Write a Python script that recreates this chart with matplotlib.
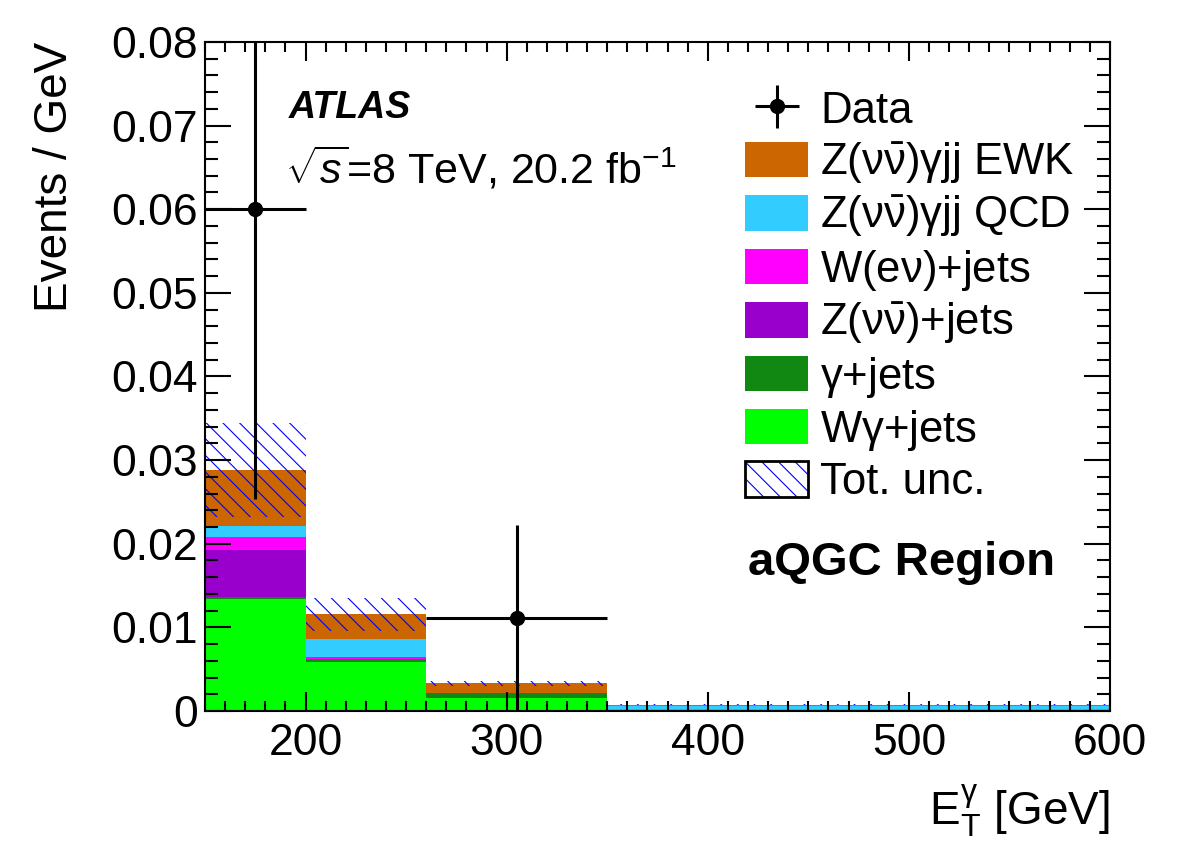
import numpy as np
import matplotlib.pyplot as plt
from matplotlib.patches import Patch
from matplotlib.legend_handler import HandlerTuple
from matplotlib.ticker import MultipleLocator

plt.rcParams['font.family'] = ['Liberation Sans', 'DejaVu Sans']
plt.rcParams['mathtext.fontset'] = 'custom'
plt.rcParams['mathtext.rm'] = 'Liberation Sans'
plt.rcParams['mathtext.it'] = 'Liberation Sans:italic'
plt.rcParams['mathtext.bf'] = 'Liberation Sans:bold'
plt.rcParams['hatch.linewidth'] = 0.8

# bin edges in photon ET (GeV)
edges = np.array([150, 200, 260, 350, 600])

# stacked backgrounds, Events / GeV (bottom to top)
wgam_jets = [0.01336, 0.00586, 0.00156, 0.00020]
gam_jets = [0.00032, 0.00032, 0.00064, 0.00002]
znn_jets = [0.00557, 0.00000, 0.00000, 0.00000]
wen_jets = [0.00152, 0.00024, 0.00000, 0.00000]
zgjj_qcd = [0.00132, 0.00224, 0.00000, 0.00040]
zgjj_ewk = [0.00673, 0.00290, 0.00111, 0.00015]
tot_unc = [0.0056, 0.0020, 0.0003, 0.0001]

# data points
data_x = [175, 305]
data_y = [0.0600, 0.0111]
data_err = [0.0346, 0.0111]
data_xerr = [25, 45]

samples = [
    (wgam_jets, '#00ff00', r'W$\mathrm{\gamma}$+jets'),
    (gam_jets, '#118811', r'$\mathrm{\gamma}$+jets'),
    (znn_jets, '#9900cc', r'Z($\mathrm{\nu\bar{\nu}}$)+jets'),
    (wen_jets, '#ff00ff', r'W(e$\mathrm{\nu}$)+jets'),
    (zgjj_qcd, '#33ccff', r'Z($\mathrm{\nu\bar{\nu}}$)$\mathrm{\gamma}$jj QCD'),
    (zgjj_ewk, '#cc6600', r'Z($\mathrm{\nu\bar{\nu}}$)$\mathrm{\gamma}$jj EWK'),
]

fig = plt.figure(figsize=(11.82, 8.48), dpi=100)
ax = fig.add_axes([0.1734, 0.1616, 0.7657, 0.789])

base = np.zeros(len(edges) - 1)
for vals, col, lab in samples:
    top = base + np.array(vals)
    ax.stairs(top, edges, baseline=base, fill=True, color=col, lw=0)
    base = top

total = base
unc = np.array(tot_unc)
ax.stairs(total + unc, edges, baseline=total - unc, fill=True,
          facecolor='none', edgecolor='blue', hatch='\\\\', lw=0)

ax.errorbar(data_x, data_y, yerr=data_err, xerr=data_xerr, fmt='o',
            color='black', ms=10, lw=2.2, capsize=0)

ax.set_xlim(150, 600)
ax.set_ylim(0, 0.08)
ax.xaxis.set_major_locator(MultipleLocator(100))
ax.xaxis.set_minor_locator(MultipleLocator(10))
ax.yaxis.set_minor_locator(MultipleLocator(0.002))
ax.set_yticks([0, 0.01, 0.02, 0.03, 0.04, 0.05, 0.06, 0.07, 0.08])
ax.set_yticklabels(['0', '0.01', '0.02', '0.03', '0.04', '0.05', '0.06', '0.07', '0.08'])
ax.tick_params(which='both', direction='in', top=True, right=True, width=1.5,
               labelsize=32)
ax.tick_params(axis='y', which='major', length=19, pad=5)
ax.tick_params(axis='y', which='minor', length=9.5)
ax.tick_params(axis='x', which='major', length=14, pad=9)
ax.tick_params(axis='x', which='minor', length=7)
for s in ax.spines.values():
    s.set_linewidth(1.5)

ax.set_ylabel('Events / GeV', fontsize=33, loc='top')
ax.yaxis.set_label_coords(-0.141, 1.0)
ax.set_xlabel(r'E$_\mathrm{T}^\mathrm{\gamma}$ [GeV]', fontsize=33, loc='right')
ax.xaxis.set_label_coords(1.0, -0.106)

ax.text(0.093, 0.886, 'ATLAS', transform=ax.transAxes, fontsize=27,
        fontweight='bold', fontstyle='italic', va='baseline')
ax.text(0.088, 0.789, r'$\sqrt{s}$=8 TeV, 20.2 fb$^{-1}$', transform=ax.transAxes,
        fontsize=31, va='baseline')
ax.text(0.600, 0.203, 'aQGC Region', transform=ax.transAxes, fontsize=34,
        fontweight='bold', va='baseline')

handles = [ax.errorbar([], [], yerr=[], xerr=[], fmt='o', color='black', ms=10, lw=2.2)]
labels = ['Data']
for vals, col, lab in samples[::-1]:
    handles.append(Patch(facecolor=col, edgecolor='none'))
    labels.append(lab)
handles.append((Patch(facecolor='white', edgecolor='blue', hatch='\\\\', lw=0),
                Patch(facecolor='none', edgecolor='black', lw=2)))
labels.append('Tot. unc.')
ax.legend(handles, labels, loc='upper left', bbox_to_anchor=(0.597, 0.928),
          frameon=False, fontsize=31.5, handlelength=1.44, handleheight=0.87,
          handletextpad=0.27, labelspacing=0.19, borderpad=0, borderaxespad=0,
          handler_map={tuple: HandlerTuple(ndivide=1, pad=0)})

fig.savefig('out.png', dpi=100)
